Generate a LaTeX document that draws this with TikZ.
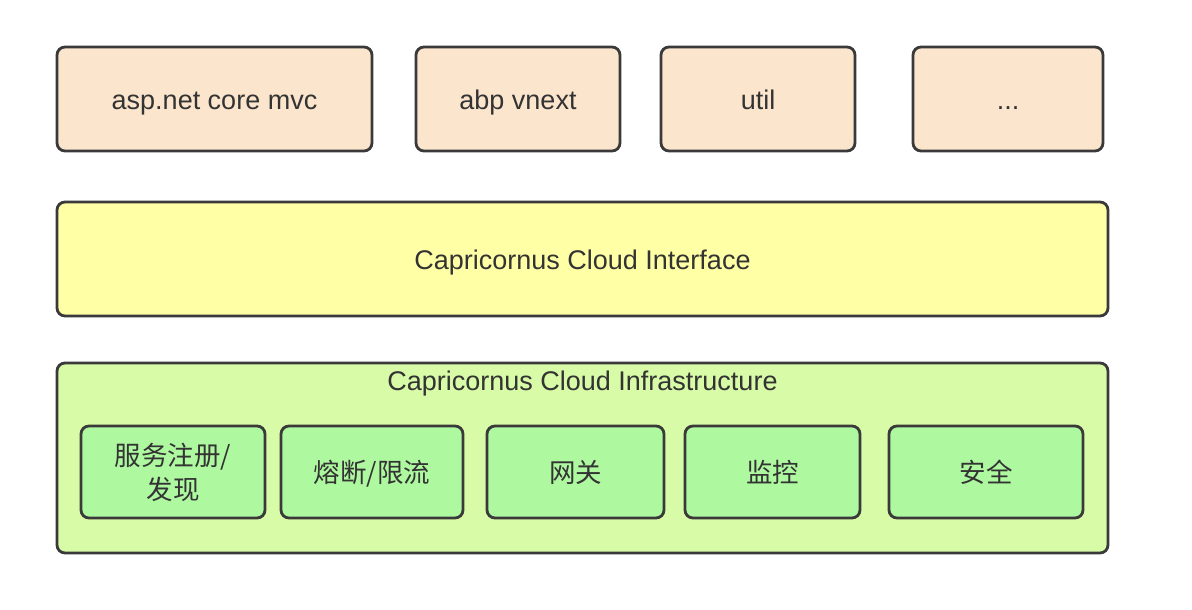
\documentclass[tikz,border=0pt]{standalone}
\usepackage{fontspec}
\setmainfont{Liberation Sans}
\newfontfamily\cjk{Noto Sans CJK SC}
\definecolor{peach}{HTML}{FBE5CD}
\definecolor{lyellow}{HTML}{FFFFA6}
\definecolor{outgreen}{HTML}{D7FBA6}
\definecolor{ingreen}{HTML}{AEF9A0}
\definecolor{edge}{HTML}{3A3A3A}
\definecolor{txt}{HTML}{333333}
\begin{document}
\begin{tikzpicture}[x=1pt,y=-1pt,
  box/.style={draw=edge,line width=2.8pt,rounded corners=8pt,inner sep=0pt,text=txt,
    font=\fontsize{27}{30}\selectfont},
  oneline/.style={text height=24pt,text depth=3pt},
  cnline/.style={text height=24pt,text depth=4pt},
  topbox/.style={box,oneline,fill=peach},
  cnbox/.style={box,fill=ingreen,font=\fontsize{26.5}{34}\cjk}]
\useasboundingbox (0,0) rectangle (1192,610);
\node[topbox,minimum width=315pt,minimum height=104pt] (asp) at (214.5,99) {asp.net core mvc};
\node[topbox,minimum width=204pt,minimum height=104pt] (abp) at (518,99) {abp vnext};
\node[topbox,minimum width=194pt,minimum height=104pt] (util) at (758,99) {util};
\node[topbox,minimum width=190pt,minimum height=104pt] (more) at (1008,99) {...};
\node[box,oneline,fill=lyellow,minimum width=1051pt,minimum height=114pt] (iface) at (582.5,259) {Capricornus Cloud Interface};
\node[box,fill=outgreen,minimum width=1051pt,minimum height=190pt] (infra) at (582.5,458) {};
\node[text=txt,oneline,inner sep=0pt,font=\fontsize{27}{30}\selectfont] (infratitle) at (582.5,380) {Capricornus Cloud Infrastructure};
\node[cnbox,align=center,minimum width=184pt,minimum height=92pt] (reg) at (173,472) {服务注册/\\发现};
\node[cnbox,cnline,minimum width=182pt,minimum height=92pt] (cb) at (372,472) {熔断/限流};
\node[cnbox,cnline,minimum width=177pt,minimum height=92pt] (gw) at (575.5,472) {网关};
\node[cnbox,cnline,minimum width=175pt,minimum height=92pt] (mon) at (772.5,472) {监控};
\node[cnbox,cnline,minimum width=194pt,minimum height=92pt] (sec) at (986,472) {安全};
\end{tikzpicture}
\end{document}
